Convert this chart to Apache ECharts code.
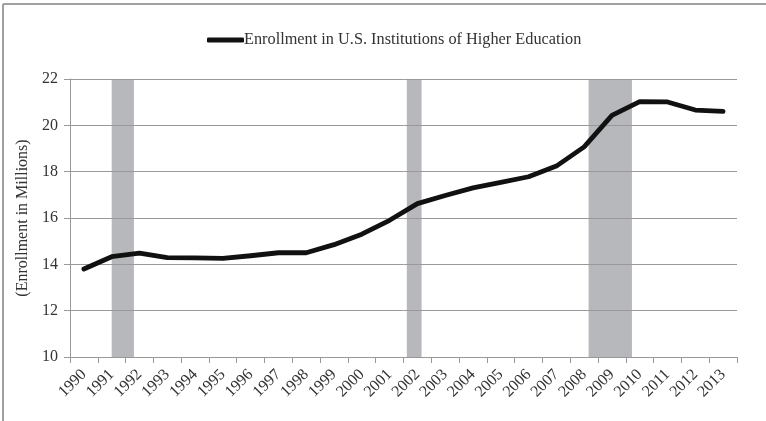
<!DOCTYPE html>
<html>
<head>
<meta charset="utf-8">
<script src="https://cdn.jsdelivr.net/npm/echarts@6/dist/echarts.min.js"></script>
<style>
html,body{margin:0;padding:0;background:#fff;}
#c{width:766px;height:421px;}
</style>
</head>
<body>
<div id="c"></div>
<script>
const years = ['1990','1991','1992','1993','1994','1995','1996','1997','1998','1999','2000','2001','2002','2003','2004','2005','2006','2007','2008','2009','2010','2011','2012','2013'];
const enrollment = [13.8,14.33,14.48,14.29,14.28,14.26,14.37,14.5,14.5,14.85,15.3,15.9,16.62,16.97,17.3,17.54,17.78,18.24,19.07,20.43,21.02,21.01,20.66,20.6];
const recessions = [[1991.0,1991.8],[2001.62,2002.15],[2008.16,2009.72]];
const yTicks = {min:10, max:22, interval:2};
const seriesName = 'Enrollment in U.S. Institutions of Higher Education';

const chart = echarts.init(document.getElementById('c'));
const font = 'Liberation Serif';
chart.setOption({
  animation:false,
  backgroundColor:'#fff',
  textStyle:{fontFamily:font},
  graphic:[
    {type:'line', shape:{x1:3,y1:4,x2:766,y2:4}, style:{stroke:'#a0a0a0', lineWidth:2}},
    {type:'line', shape:{x1:3,y1:4,x2:3,y2:421}, style:{stroke:'#a0a0a0', lineWidth:2}}
  ],
  legend:{
    top:27, left:202,
    itemWidth:37, itemHeight:5, itemGap:4,
    icon:'roundRect',
    textStyle:{fontFamily:font, fontSize:16.3, color:'#333', padding:[0,0,0,-5]},
    data:[{name:seriesName, icon:'roundRect', itemStyle:{color:'#111'}}]
  },
  grid:{left:70, right:29, top:79, bottom:64},
  xAxis:[
    {type:'category', data:years, boundaryGap:true,
     axisLine:{lineStyle:{color:'#999', width:1}},
     axisTick:{show:true, alignWithLabel:false, length:6, lineStyle:{color:'#999'}},
     axisLabel:{rotate:45, fontFamily:font, fontSize:16, color:'#333', margin:15, interval:0},
     splitLine:{show:false}},
    {type:'value', min:1989.5, max:2013.5, show:false}
  ],
  yAxis:{type:'value', min:yTicks.min, max:yTicks.max, interval:yTicks.interval,
    name:'(Enrollment in Millions)', nameLocation:'middle', nameGap:32,
    nameTextStyle:{fontFamily:font, fontSize:16, color:'#333'},
    axisLine:{show:true, lineStyle:{color:'#999'}},
    axisTick:{show:true, length:6, lineStyle:{color:'#999'}},
    axisLabel:{fontFamily:font, fontSize:16, color:'#333', margin:12},
    splitLine:{show:true, lineStyle:{color:'#999', width:1}}},
  series:[
    {type:'custom', xAxisIndex:1, z:-1, silent:true,
     data:recessions,
     encode:{x:[0,1]},
     renderItem:function(params, api){
       const p0 = api.coord([api.value(0), yTicks.max]);
       const p1 = api.coord([api.value(1), yTicks.min]);
       return {type:'rect', shape:{x:p0[0], y:p0[1], width:p1[0]-p0[0], height:p1[1]-p0[1]}, style:{fill:'#b7b8bb'}};
     }},
    {name:seriesName, type:'line', data:enrollment, symbol:'none',
     lineStyle:{color:'#111', width:4.8, cap:'round', join:'round'},
     itemStyle:{color:'#111'}}
  ]
});
</script>
</body>
</html>
